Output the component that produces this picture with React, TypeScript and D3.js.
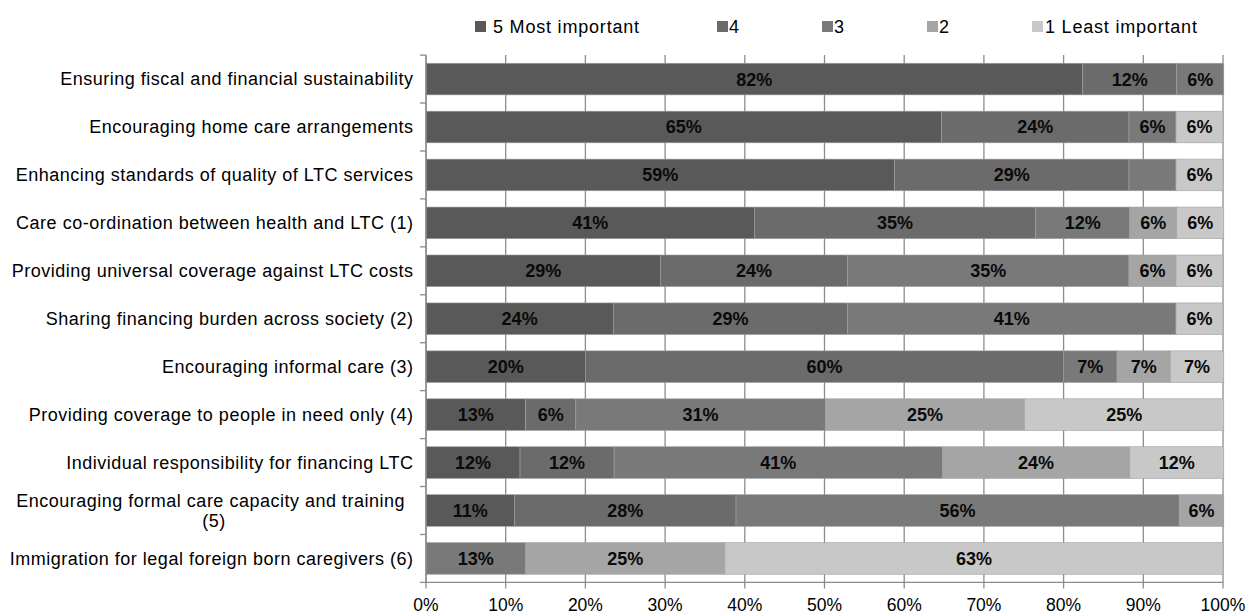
import React from "react";
import * as d3 from "d3";

// Survey priorities, share of respondents by importance score (percent)
const categories = [
  "Ensuring fiscal and financial sustainability",
  "Encouraging home care arrangements",
  "Enhancing standards of quality of LTC services",
  "Care co-ordination between health and LTC (1)",
  "Providing universal coverage against LTC costs",
  "Sharing financing burden across society (2)",
  "Encouraging informal care (3)",
  "Providing coverage to people in need only (4)",
  "Individual responsibility for financing LTC",
  "Encouraging formal care capacity and training (5)",
  "Immigration for legal foreign born caregivers (6)",
];

const score5 = [82.4, 64.7, 58.8, 41.2, 29.4, 23.5, 20.0, 12.5, 11.8, 11.1, 0];
const score4 = [11.8, 23.5, 29.4, 35.3, 23.5, 29.4, 60.0, 6.3, 11.8, 27.8, 0];
const score3 = [5.9, 5.9, 5.9, 11.8, 35.3, 41.2, 6.7, 31.3, 41.2, 55.6, 12.5];
const score2 = [0, 0, 0, 5.9, 5.9, 0, 6.7, 25.0, 23.5, 5.6, 25.0];
const score1 = [0, 5.9, 5.9, 5.9, 5.9, 5.9, 6.7, 25.0, 11.8, 0, 62.5];

const seriesKeys = ["s5", "s4", "s3", "s2", "s1"];
const seriesNames = ["5 Most important", "4", "3", "2", "1 Least important"];
const seriesColors = ["#595959", "#6b6b6b", "#797979", "#a5a5a5", "#c8c8c8"];

// segments drawn without a value label (row index : series key)
const unlabeled = ["2:s3"];

const xTicks = [0, 10, 20, 30, 40, 50, 60, 70, 80, 90, 100];

const W = 1248;
const H = 615;
const FONT = "'Liberation Sans', Arial, Helvetica, sans-serif";

export default function App() {
  const rows = categories.map((c, i) => ({
    cat: c,
    s5: score5[i],
    s4: score4[i],
    s3: score3[i],
    s2: score2[i],
    s1: score1[i],
  }));

  const stacked = d3.stack<any>().keys(seriesKeys)(rows);

  const x = d3.scaleLinear().domain([0, 100]).range([426, 1223]);
  const y = d3
    .scaleBand<string>()
    .domain(categories)
    .range([55.1, 582.4])
    .paddingInner(0.34)
    .paddingOuter(0.17);

  const top = 55.1;
  const bottom = 582.4;
  const step = y.step();
  const boundaries = d3.range(categories.length + 1).map((k) => top + k * step);

  const legendX = [475, 717, 822, 927, 1032];
  const legendTextOffset = [18, 12, 12, 12, 13];

  const gridColor = "#8c8c8c";
  const catSize = 18;
  const catSpacing = 0.5;

  const renderCategory = (c: string) => {
    const cy = (y(c) as number) + y.bandwidth() / 2;
    if (c === "Encouraging formal care capacity and training (5)") {
      const line1 = "Encouraging formal care capacity and training";
      return (
        <text key={c} fontFamily={FONT} fontSize={catSize} fill="#000" letterSpacing={catSpacing}>
          <tspan x={405} y={cy - 10} dy="0.35em" textAnchor="end">
            {line1}
          </tspan>
          <tspan x={214} y={cy + 10} dy="0.35em" textAnchor="middle">
            (5)
          </tspan>
        </text>
      );
    }
    return (
      <text
        key={c}
        x={413.5}
        y={cy}
        dy="0.35em"
        textAnchor="end"
        fontFamily={FONT}
        fontSize={catSize}
        letterSpacing={catSpacing}
        fill="#000"
      >
        {c}
      </text>
    );
  };

  return (
    <svg
      width={W}
      height={H}
      viewBox={`0 0 ${W} ${H}`}
      style={{ position: "absolute", left: 0, top: 0, background: "#fff" }}
    >
      <rect width={W} height={H} fill="#fff" />

      {/* vertical gridlines with tick stubs below the axis */}
      {xTicks.map((t) => (
        <line
          key={"g" + t}
          x1={x(t)}
          x2={x(t)}
          y1={top}
          y2={bottom + 6}
          stroke={gridColor}
          strokeWidth={1.3}
        />
      ))}

      {/* stacked bars */}
      {stacked.map((layer, si) => (
        <g key={layer.key}>
          {layer.map((d, i) => {
            const w = x(d[1]) - x(d[0]);
            if (w <= 0) return null;
            return (
              <rect
                key={i}
                x={x(d[0])}
                y={y(categories[i]) as number}
                width={w}
                height={y.bandwidth()}
                fill={seriesColors[si]}
                stroke="#a0a0a0"
                strokeWidth={0.6}
              />
            );
          })}
        </g>
      ))}

      {/* value labels */}
      {stacked.map((layer) => (
        <g key={"l" + layer.key}>
          {layer.map((d, i) => {
            const v = d[1] - d[0];
            if (v <= 0 || unlabeled.includes(`${i}:${layer.key}`)) return null;
            return (
              <text
                key={i}
                x={(x(d[0]) + x(d[1])) / 2}
                y={(y(categories[i]) as number) + y.bandwidth() / 2}
                dy="0.36em"
                textAnchor="middle"
                fontFamily={FONT}
                fontSize={18}
                fontWeight="bold"
                fill="#0a0a0a"
              >
                {Math.round(v)}%
              </text>
            );
          })}
        </g>
      ))}

      {/* axes */}
      <line x1={x(0)} x2={x(0)} y1={top} y2={bottom} stroke={gridColor} strokeWidth={1.3} />
      <line x1={x(0)} x2={x(100)} y1={bottom} y2={bottom} stroke={gridColor} strokeWidth={1.3} />
      {boundaries.map((b, k) => (
        <line key={"yt" + k} x1={x(0) - 6} x2={x(0)} y1={b} y2={b} stroke={gridColor} strokeWidth={1.3} />
      ))}

      {xTicks.map((t) => (
        <text
          key={"xt" + t}
          x={x(t)}
          y={611}
          textAnchor="middle"
          fontFamily={FONT}
          fontSize={17.5}
          fill="#000"
        >
          {t}%
        </text>
      ))}

      {categories.map(renderCategory)}

      {/* legend */}
      {seriesNames.map((n, i) => (
        <g key={"lg" + i}>
          <rect x={legendX[i]} y={21} width={11} height={11} fill={seriesColors[i]} />
          <text
            x={legendX[i] + legendTextOffset[i]}
            y={32.5}
            fontFamily={FONT}
            fontSize={18}
            letterSpacing={0.8}
            fill="#000"
          >
            {n}
          </text>
        </g>
      ))}
    </svg>
  );
}
